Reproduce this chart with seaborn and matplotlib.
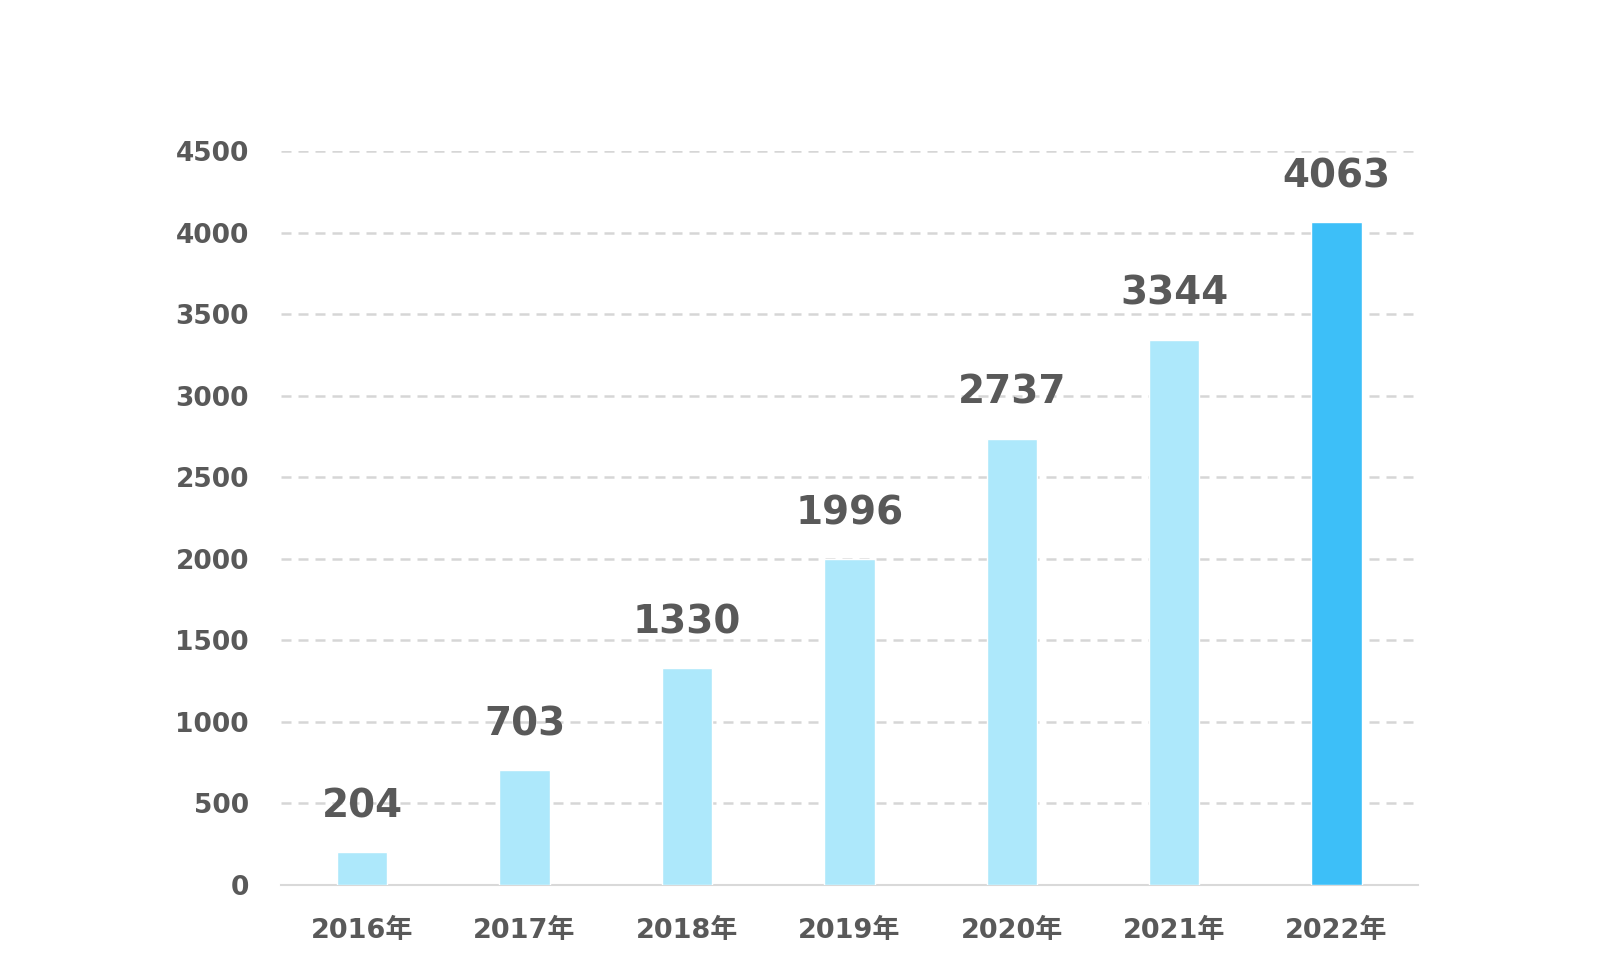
import matplotlib
matplotlib.use("Agg")
import matplotlib.pyplot as plt
import seaborn as sns
import pandas as pd

years = ["2016年", "2017年", "2018年", "2019年", "2020年", "2021年", "2022年"]
values = [204, 703, 1330, 1996, 2737, 3344, 4063]
yticks = [0, 500, 1000, 1500, 2000, 2500, 3000, 3500, 4000, 4500]
bar_colors = ["#ade8fb"] * 6 + ["#3dbff8"]

sns.set_theme(style="white")
plt.rcParams['font.family'] = ['DejaVu Sans', 'Noto Sans CJK SC']
plt.rcParams['font.weight'] = 'bold'

df = pd.DataFrame({"year": years, "value": values})

fig = plt.figure(figsize=(16, 9.72), dpi=100)
ax = fig.add_axes([0.1756, 0.0895, 0.7105, 0.7552])

sns.barplot(data=df, x="year", y="value", hue="year", palette=bar_colors,
            width=0.31, legend=False, ax=ax, saturation=1, zorder=3)

ax.set_ylim(0, 4500)
ax.set_xlim(-0.5, len(years) - 0.5)
ax.set_yticks(yticks)
ax.set_yticklabels([str(t) for t in yticks])
ax.set_xlabel("")
ax.set_ylabel("")

for t in yticks[1:]:
    ax.axhline(t, color="#d6d6d6", lw=1.8, linestyle=(0, (4.0, 2.8)), zorder=1)

for s in ["top", "right", "left"]:
    ax.spines[s].set_visible(False)
ax.spines["bottom"].set_color("#d9d9d9")
ax.spines["bottom"].set_linewidth(1.5)

ax.tick_params(axis="y", length=0, pad=23, labelsize=19, labelcolor="#595959")
ax.tick_params(axis="x", length=0, pad=24, labelsize=19.5, labelcolor="#595959")
for lab in ax.get_xticklabels() + ax.get_yticklabels():
    lab.set_fontweight("bold")

for i, v in enumerate(values):
    ax.annotate(str(v), (i, v), xytext=(0, 25), textcoords="offset points",
                ha="center", va="baseline", fontsize=28, fontweight="bold",
                color="#595959")

fig.savefig("out.png", dpi=100, facecolor="white")
